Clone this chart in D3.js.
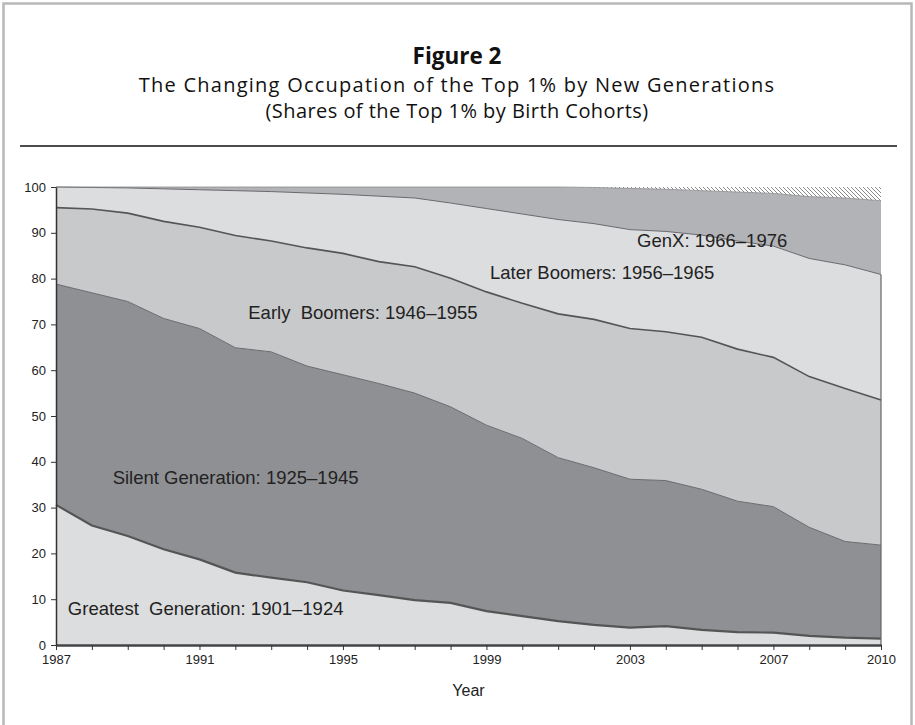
<!DOCTYPE html>
<html>
<head>
<meta charset="utf-8">
<script src="https://cdn.jsdelivr.net/npm/d3@7"></script>
<style>
  body { margin: 0; background: #fff; }
  svg { display: block; }
</style>
</head>
<body>
<svg id="chart" width="915" height="725"></svg>
<script>
// data: share (%) of the top 1% held by each birth cohort
const years = d3.range(1987, 2011);
const cohorts = ["Greatest Generation", "Silent Generation", "Early Boomers", "Later Boomers", "GenX", "Post-GenX"];
const greatest = [30.6, 26.1, 23.8, 20.9, 18.7, 15.8, 14.7, 13.7, 11.9, 10.9, 9.8, 9.2, 7.4, 6.3, 5.2, 4.4, 3.8, 4.1, 3.3, 2.8, 2.7, 2.0, 1.6, 1.4];
const silent   = [48.2, 50.8, 51.2, 50.4, 50.4, 49.1, 49.3, 47.2, 47.1, 46.2, 45.2, 42.8, 40.6, 38.8, 35.7, 34.3, 32.4, 31.8, 30.7, 28.6, 27.5, 23.7, 21.0, 20.4];
const early    = [16.7, 18.3, 19.3, 21.2, 22.1, 24.5, 24.2, 25.8, 26.5, 26.6, 27.6, 28.1, 29.1, 29.5, 31.4, 32.4, 32.9, 32.5, 33.2, 33.2, 32.6, 32.9, 33.4, 31.7];
const later    = [4.5, 4.7, 5.5, 7.1, 8.2, 9.8, 10.8, 12.0, 12.9, 14.3, 15.0, 16.4, 18.2, 19.5, 20.6, 20.9, 21.6, 21.9, 22.3, 23.6, 24.3, 25.8, 27.0, 27.4];
const genx     = [0.0, 0.1, 0.2, 0.4, 0.6, 0.8, 1.0, 1.3, 1.6, 2.0, 2.4, 3.5, 4.7, 5.9, 7.1, 7.9, 9.0, 9.2, 9.7, 10.7, 11.5, 13.5, 14.6, 16.1];
const postGenx = [0, 0, 0, 0, 0, 0, 0, 0, 0, 0, 0, 0, 0, 0, 0, 0.1, 0.3, 0.5, 0.8, 1.1, 1.4, 2.1, 2.4, 3.0];
const labelYears = [1987, 1991, 1995, 1999, 2003, 2007, 2010];
const labels = ["Greatest\u00a0 Generation: 1901\u20131924", "Silent Generation: 1925\u20131945",
  "Early\u00a0 Boomers: 1946\u20131955", "Later Boomers: 1956\u20131965", "GenX: 1966\u20131976"];

const series = [greatest, silent, early, later, genx, postGenx];
const table = years.map((yr, i) => {
  const row = {year: yr};
  cohorts.forEach((c, k) => row[c] = series[k][i]);
  return row;
});

const svg = d3.select('#chart');
const W = 915, H = 725;
const margin = {left: 56, right: 31, top: 187, bottom: 80};

// outer frame
svg.append('rect')
    .attr('x', 3.5).attr('y', 3.5)
    .attr('width', 908).attr('height', 740)
    .attr('fill', 'none')
    .attr('stroke', '#b8b8b8')
    .attr('stroke-width', 2.5);

// titles
const titleFont = "'Open Sans', 'Noto Sans', sans-serif";
svg.append('text')
    .attr('x', 457).attr('y', 64)
    .attr('text-anchor', 'middle')
    .attr('font-family', titleFont)
    .attr('font-weight', 'bold')
    .attr('font-size', 22.5)
    .attr('fill', '#111')
    .text('Figure 2');
svg.append('text')
    .attr('x', 457).attr('y', 91.5)
    .attr('text-anchor', 'middle')
    .attr('font-family', titleFont)
    .attr('font-size', 20)
    .attr('letter-spacing', 1.25)
    .attr('fill', '#111')
    .text('The Changing Occupation of the Top 1% by New Generations');
svg.append('text')
    .attr('x', 457).attr('y', 118)
    .attr('text-anchor', 'middle')
    .attr('font-family', titleFont)
    .attr('font-size', 20)
    .attr('letter-spacing', 0.45)
    .attr('fill', '#111')
    .text('(Shares of the Top 1% by Birth Cohorts)');
svg.append('line')
    .attr('x1', 20).attr('x2', 897)
    .attr('y1', 146).attr('y2', 146)
    .attr('stroke', '#111')
    .attr('stroke-width', 1.5);

const x = d3.scaleLinear()
    .domain([1987, 2010])
    .range([margin.left, W - margin.right - 3]);
const y = d3.scaleLinear()
    .domain([0, 100])
    .range([645, margin.top]);

const stacked = d3.stack().keys(cohorts)(table);

// hatch pattern for the youngest band
const defs = svg.append('defs');
const pat = defs.append('pattern')
    .attr('id', 'hatch')
    .attr('patternUnits', 'userSpaceOnUse')
    .attr('width', 4).attr('height', 4);
pat.append('rect').attr('width', 4).attr('height', 4).attr('fill', '#fff');
pat.append('path')
    .attr('d', 'M-1,-1 L5,5 M-1,3 L1,5 M3,-1 L5,1')
    .attr('stroke', '#8a8a8a')
    .attr('stroke-width', 1);

const fills = ['#dcdddf', '#8f9094', '#c8c9cb', '#dcdddf', '#b2b3b6', 'url(#hatch)'];
const lineColors = ['#555', '#6a6a6e', '#555', '#6a6a6e', '#8a8a8e', '#aaa'];
const lineWidths = [2.2, 1, 1.6, 1, 0.8, 0.8];

const area = d3.area()
    .x(d => x(d.data.year))
    .y0(d => y(d[0]))
    .y1(d => y(d[1]));

svg.append('g')
  .selectAll('path')
  .data(stacked)
  .join('path')
    .attr('d', area)
    .attr('fill', (d, i) => fills[i]);

const topLine = d3.line()
    .x(d => x(d.data.year))
    .y(d => y(d[1]));

svg.append('g')
  .selectAll('path')
  .data(stacked.slice(0, 5))
  .join('path')
    .attr('d', topLine)
    .attr('fill', 'none')
    .attr('stroke', (d, i) => lineColors[i])
    .attr('stroke-width', (d, i) => lineWidths[i]);

// right edge of the stack
svg.append('line')
    .attr('x1', x(2010)).attr('x2', x(2010))
    .attr('y1', y(0)).attr('y2', y(stacked[3][23][1]))
    .attr('stroke', '#666')
    .attr('stroke-width', 1.2);

// axes
const axisFont = "'Liberation Sans', Arial, sans-serif";
const yAxis = svg.append('g')
    .attr('transform', `translate(${margin.left},0)`)
    .call(d3.axisLeft(y).tickValues(d3.range(0, 101, 10)).tickSize(5).tickPadding(5).tickSizeOuter(0));
yAxis.select('.domain').attr('stroke', '#333').attr('stroke-width', 1.5);
yAxis.selectAll('.tick line').attr('stroke', '#333');
yAxis.selectAll('text')
    .attr('font-family', axisFont)
    .attr('font-size', 13)
    .attr('fill', '#222');

const xAxis = svg.append('g')
    .attr('transform', `translate(0,${y(0)})`)
    .call(d3.axisBottom(x)
      .tickValues(years)
      .tickSize(5)
      .tickPadding(5)
      .tickSizeOuter(0)
      .tickFormat(d => labelYears.includes(d) ? d : ''));
xAxis.select('.domain').attr('stroke', '#444').attr('stroke-width', 2.5);
xAxis.selectAll('.tick line').attr('stroke', '#333');
xAxis.selectAll('text')
    .attr('font-family', axisFont)
    .attr('font-size', 13)
    .attr('fill', '#222');

svg.append('text')
    .attr('x', (x(1987) + x(2010)) / 2)
    .attr('y', 696)
    .attr('text-anchor', 'middle')
    .attr('font-family', axisFont)
    .attr('font-size', 16)
    .attr('fill', '#222')
    .text('Year');

// band labels, anchored in data units
const spots = [[1987.33, 6.55], [1988.58, 35.15], [1992.36, 71.1], [1999.1, 79.85], [2003.2, 86.9]];
svg.append('g')
  .selectAll('text')
  .data(labels)
  .join('text')
    .attr('x', (d, i) => x(spots[i][0]))
    .attr('y', (d, i) => y(spots[i][1]))
    .attr('font-family', axisFont)
    .attr('font-size', 18.5)
    .attr('fill', '#222')
    .text(d => d);
</script>
</body>
</html>
